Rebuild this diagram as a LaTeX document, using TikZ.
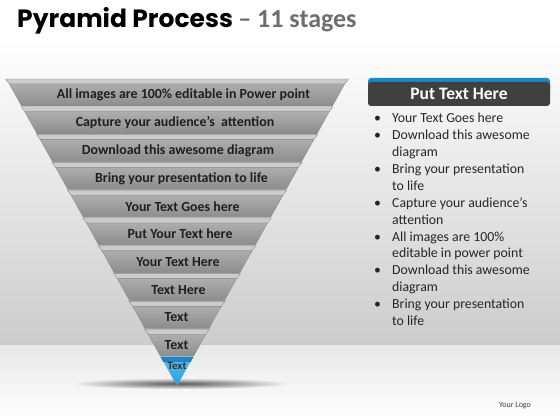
\documentclass[tikz,border=0pt]{standalone}
\usepackage{fontspec}
\setmainfont{Carlito}
\newfontfamily\titlefont{Poppins}
\definecolor{tipblue}{RGB}{30,160,226}
\definecolor{headgrey}{RGB}{64,64,64}
\definecolor{headblue}{RGB}{28,136,204}
\definecolor{stagegrey}{RGB}{110,110,110}

\begin{document}
\begin{tikzpicture}[x=1pt,y=-1pt,
    stagetext/.style={font=\bfseries\fontsize{13.9}{15}\selectfont, text=black!88},
    face/.style={draw=black!45, line width=0.4pt, top color=black!32, middle color=black!13, bottom color=black!45},
    lid/.style={draw=black!45, line width=0.4pt, fill=black!20}]
\useasboundingbox (0,0) rectangle (560,420);
% backdrop, floor and shadow
\fill[white] (0,0) rectangle (560,40);
\shade[top color=white, bottom color=black!20] (0,40) rectangle (560,345);
\shade[top color=black!9, bottom color=white] (0,345) rectangle (560,420);
\shade[inner color=black!65, outer color=black!5] (180,383.5) ellipse [x radius=108, y radius=5.5];

\node[anchor=base west, inner sep=0] (T) at (17,28) {\titlefont\bfseries\fontsize{25}{28}\selectfont Pyramid Process \textcolor{stagegrey}{\rmfamily\fontsize{26}{28}\selectfont – 11 stages}};

% the grey stages
\foreach \i/\x/\t in {1/183.5/All images are 100\% editable in Power point,
                      2/175/Capture your audience’s\ \ attention,
                      3/178/Download this awesome diagram,
                      4/181.5/Bring your presentation to life,
                      5/182.5/Your Text Goes here,
                      6/180/Put Your Text here,
                      7/178/Your Text Here,
                      8/178.5/Text Here,
                      9/176.5/Text,
                      10/176.5/Text} {
    \pgfmathsetmacro\yt{79+27.8*(\i-1)}
    \pgfmathsetmacro\yf{\yt+5}
    \pgfmathsetmacro\yb{\yt+27}
    \pgfmathsetmacro\xa{177-0.555*(386-\yt)}
    \pgfmathsetmacro\xb{177-0.555*(386-\yf)}
    \pgfmathsetmacro\xc{177-0.555*(386-\yb)}
    \fill[lid] (\xa-1,\yt) -- (354-\xa+1,\yt) -- (354-\xb,\yf) -- (\xb,\yf) -- cycle;
    \shade[face] (\xb,\yf) -- (354-\xb,\yf) -- (354-\xc,\yb) -- (\xc,\yb) -- cycle;
    \node[stagetext] (s\i) at (\x,\yt+16) {\t};
}

% blue tip
\fill[draw=headblue!70!black, line width=0.4pt, fill=headblue] (160.9,357) -- (193.1,357) -- (190.3,362) -- (163.7,362) -- cycle;
\shade[top color=tipblue!75!white, bottom color=tipblue] (163.7,362) -- (190.3,362) -- (177,386) -- cycle;
\node[font=\bfseries\fontsize{11}{12}\selectfont, text=black!80] (s11) at (177,366) {Text};

% right panel
\fill[headblue, rounded corners=3pt] (368,78) rectangle (550,92);
\node[fill=headgrey, rounded corners=3pt, minimum width=182pt, minimum height=24pt, inner sep=0,
      text=white, font=\bfseries\fontsize{17.5}{20}\selectfont] (H) at (459,94) {Put Text Here};
\node[anchor=north west, inner sep=0, align=left, text=black!85, font=\fontsize{13.8}{16.9}\selectfont] (L) at (372,113) {
\makebox[20pt][l]{\hspace{2pt}•}Your Text Goes here\\
\makebox[20pt][l]{\hspace{2pt}•}Download this awesome\\
\hspace*{20pt}diagram\\
\makebox[20pt][l]{\hspace{2pt}•}Bring your presentation\\
\hspace*{20pt}to life\\
\makebox[20pt][l]{\hspace{2pt}•}Capture your audience’s\\
\hspace*{20pt}attention\\
\makebox[20pt][l]{\hspace{2pt}•}All images are 100\%\\
\hspace*{20pt}editable in power point\\
\makebox[20pt][l]{\hspace{2pt}•}Download this awesome\\
\hspace*{20pt}diagram\\
\makebox[20pt][l]{\hspace{2pt}•}Bring your presentation\\
\hspace*{20pt}to life};
\node[font=\fontsize{8}{9}\selectfont, text=black!75] (logo) at (515,406) {Your Logo};
\end{tikzpicture}
\end{document}
